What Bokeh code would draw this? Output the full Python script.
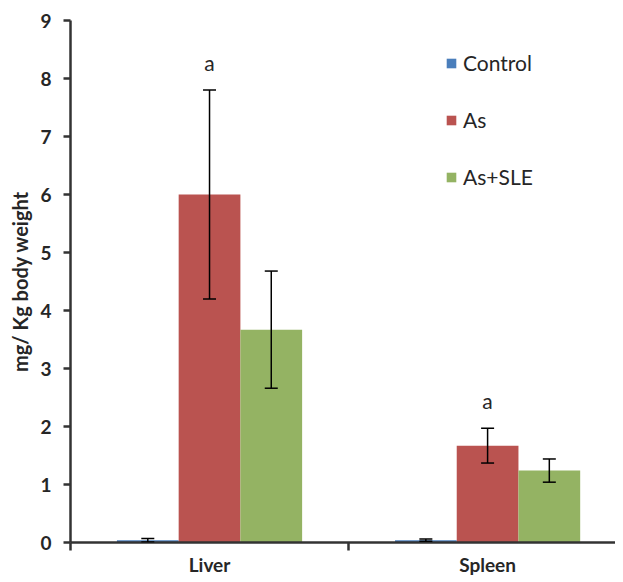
from bokeh.plotting import figure
from bokeh.models import (ColumnDataSource, Whisker, TeeHead, FixedTicker, Legend,
                          LegendItem, Range1d, LinearAxis)
from bokeh.embed import file_html
from bokeh.resources import INLINE
from bokeh.core.properties import value

# ---- data ----
organs = ["Liver", "Spleen"]
groups = ["Control", "As", "As+SLE"]
control = [0.04, 0.04]
control_err = [0.03, 0.02]
arsenic = [6.0, 1.67]
arsenic_err = [1.8, 0.30]
as_sle = [3.67, 1.24]
as_sle_err = [1.01, 0.20]
sig_labels = ["a", "a"]
y_ticks = list(range(10))
colors = ["#4A7EBB", "#BA5350", "#94B363"]

FONT = "Lato"
TXT = "#262626"

p = figure(width=615, height=578, output_backend="svg", toolbar_location=None,
           x_range=Range1d(0, 1.96), y_range=Range1d(0, 9),
           min_border_left=70, min_border_top=20, min_border_right=0,
           min_border_bottom=31)
p.xaxis.visible = False
p.yaxis.visible = False
p.grid.visible = False
p.outline_line_color = None

yax = LinearAxis(ticker=FixedTicker(ticks=y_ticks, minor_ticks=[]))
yax.axis_line_width = 2.5
yax.axis_line_color = "#333333"
yax.major_tick_line_width = 2.5
yax.major_tick_line_color = "#333333"
yax.major_tick_in = 0
yax.major_tick_out = 7
yax.major_label_standoff = 12
yax.major_label_text_font = FONT
yax.major_label_text_font_style = "bold"
yax.major_label_text_font_size = "19px"
yax.major_label_text_color = TXT
yax.axis_label = "mg/ Kg body weight"
yax.axis_label_standoff = 5
yax.axis_label_text_font = FONT
yax.axis_label_text_font_style = "bold"
yax.axis_label_text_font_size = "20px"
yax.axis_label_text_color = TXT
p.add_layout(yax, "left")

centers = [0.5 + i for i in range(len(organs))]
xax = LinearAxis(ticker=FixedTicker(ticks=centers, minor_ticks=[0, 1, 2]))
xax.major_label_overrides = {c: o for c, o in zip(centers, organs)}
xax.axis_line_width = 2.5
xax.axis_line_color = "#333333"
xax.major_tick_in = 0
xax.major_tick_out = 0
xax.minor_tick_in = 0
xax.minor_tick_out = 8
xax.minor_tick_line_width = 2.5
xax.minor_tick_line_color = "#333333"
xax.major_label_standoff = 2
xax.major_label_text_font = FONT
xax.major_label_text_font_style = "bold"
xax.major_label_text_font_size = "19px"
xax.major_label_text_color = TXT
p.add_layout(xax, "below")

bw = 0.222
series = [(control, control_err), (arsenic, arsenic_err), (as_sle, as_sle_err)]
items = []
for k, ((vals, errs), name, col) in enumerate(zip(series, groups, colors)):
    xs = [c + (k - 1) * bw for c in centers]
    src = ColumnDataSource(dict(x=xs, top=vals,
                                upper=[v + e for v, e in zip(vals, errs)],
                                lower=[v - e for v, e in zip(vals, errs)]))
    r = p.vbar(x="x", top="top", bottom=0, width=bw, source=src,
               fill_color=col, line_color=None)
    items.append(LegendItem(label=name, renderers=[r]))
    w = Whisker(base="x", upper="upper", lower="lower", source=src, level="overlay",
                line_color="black", line_width=1.5,
                upper_head=TeeHead(size=13, line_width=1.5, line_color="black"),
                lower_head=TeeHead(size=13, line_width=1.5, line_color="black"))
    p.add_layout(w)
    if name == "As":
        sig_src = ColumnDataSource(dict(x=xs, y=src.data["upper"], t=sig_labels))
        p.text(x="x", y="y", text="t", source=sig_src, text_align="center",
               text_baseline="alphabetic", y_offset=-28,
               text_font=value(FONT), text_font_size="21px", text_color=TXT)

legend = Legend(items=items, location=(375, 353))
legend.glyph_width = 12
legend.glyph_height = 12
legend.label_height = 20
legend.spacing = 32
legend.padding = 0
legend.margin = 0
legend.label_standoff = 6
legend.border_line_color = None
legend.background_fill_alpha = 0
legend.label_text_font = FONT
legend.label_text_font_size = "21px"
legend.label_text_color = TXT
p.add_layout(legend)

open("out.html", "w").write(file_html(p, INLINE))
